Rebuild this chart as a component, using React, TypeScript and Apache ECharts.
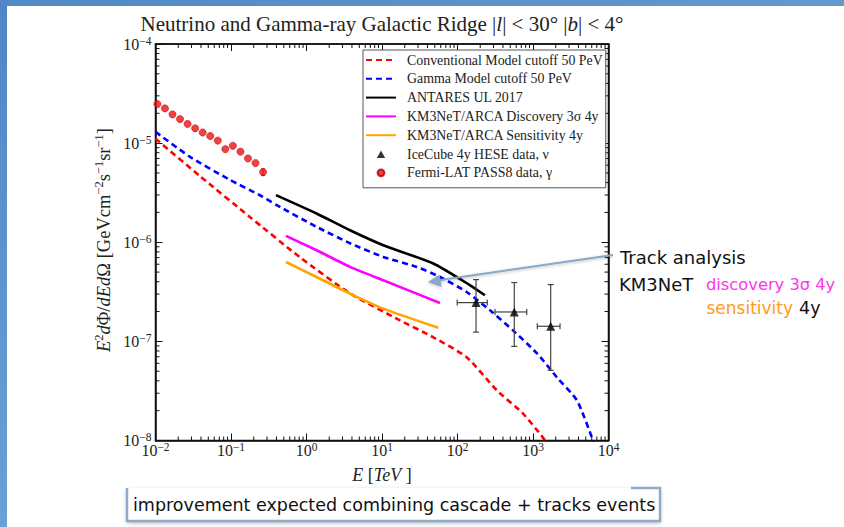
import { useEffect, useRef } from "react";
import * as echarts from "echarts";

// Energies in TeV, fluxes E^2 dPhi/dE dOmega in GeV cm^-2 s^-1 sr^-1
const conventionalE = [0.01, 0.0388, 0.179, 0.82, 3.77, 17.3, 47.8, 132, 333, 738, 1355, 1680];
const conventionalF = [1.11e-5, 4.65e-6, 1.79e-6, 7.05e-7, 3.05e-7, 1.63e-7, 1.1e-7, 6.93e-8, 3.2e-8, 1.87e-8, 1.07e-8, 8.5e-9];

const gammaE = [0.01, 0.0286, 0.097, 0.242, 0.403, 1.36, 3.77, 10.4, 28.8, 58.6, 132, 269, 543, 1130, 2080, 3830, 6240, 7260];
const gammaF = [1.3e-5, 7.28e-6, 4.25e-6, 2.98e-6, 2.37e-6, 1.43e-6, 9.78e-7, 7.11e-7, 5.64e-7, 4.46e-7, 3.15e-7, 2.06e-7, 1.29e-7, 7.57e-8, 4.33e-8, 2.53e-8, 1.0e-8, 7.1e-9];

const antaresE = [0.394, 1.36, 3.77, 10.4, 47.8, 147, 231];
const antaresF = [2.99e-6, 1.95e-6, 1.32e-6, 9.33e-7, 6.1e-7, 3.68e-7, 2.92e-7];

const discoveryE = [0.535, 1.36, 3.77, 10.4, 58.6];
const discoveryF = [1.16e-6, 8.3e-7, 5.64e-7, 4.13e-7, 2.44e-7];

const sensitivityE = [0.535, 1.36, 3.77, 10.4, 55.7];
const sensitivityF = [6.32e-7, 4.46e-7, 3.03e-7, 2.14e-7, 1.37e-7];

const iceCubeE = [176, 565, 1714];
const iceCubeF = [2.46e-7, 1.98e-7, 1.42e-7];
const iceCubeELo = [99, 314, 1140];
const iceCubeEHi = [248, 826, 2280];
const iceCubeFLo = [1.24e-7, 8.9e-8, 5.1e-8];
const iceCubeFHi = [4.2e-7, 3.92e-7, 3.74e-7];

const fermiE = [0.01059, 0.01334, 0.01679, 0.02113, 0.02661, 0.0335, 0.04217, 0.05309, 0.06683, 0.08414, 0.1059, 0.1334, 0.1679, 0.2113, 0.2661];
const fermiF = [2.48e-5, 2.24e-5, 1.95e-5, 1.75e-5, 1.56e-5, 1.41e-5, 1.28e-5, 1.18e-5, 1.06e-5, 8.7e-6, 9.4e-6, 8.2e-6, 7.0e-6, 6.3e-6, 5.1e-6];
// only the highest-energy Fermi point carries a visible error bar
const fermiErrE = [0.2661];
const fermiErrLo = [4.7e-6];
const fermiErrHi = [5.5e-6];

const X_MIN = 1e-2;
const X_MAX = 1e4;
const Y_MIN = 1e-8;
const Y_MAX = 1e-4;

const xDecades = [-2, -1, 0, 1, 2, 3];
const yDecades = [-8, -7, -6, -5];
const minorMultipliers = [2, 3, 4, 5, 6, 7, 8, 9];

const NAMES = [
  "Conventional Model cutoff 50 PeV",
  "Gamma Model cutoff 50 PeV",
  "ANTARES UL 2017",
  "KM3NeT/ARCA Discovery 3\u03c3 4y",
  "KM3NeT/ARCA Sensitivity 4y",
  "IceCube 4y HESE data, \u03bd",
  "Fermi-LAT PASS8 data, \u03b3",
];

const SERIF = "'Liberation Serif', 'DejaVu Serif', serif";
const SANS = "'DejaVu Sans', 'Noto Sans', sans-serif";

// legend marker paths padded to the 30x9 legend slot so they keep their shape
const TRIANGLE_ICON = "path://M0,0L0,0M30,9L30,9M10.8,8.5L15,1L19.2,8.5Z";
const CIRCLE_ICON = "path://M0,0L0,0M30,9L30,9M11.6,4.5A3.4,3.4,0,1,0,18.4,4.5A3.4,3.4,0,1,0,11.6,4.5Z";

const zip = (a: number[], b: number[]) => a.map((v, i) => [v, b[i]]);

const powLabel = (v: number) => {
  const e = Math.round(Math.log10(v));
  const s = e < 0 ? "\u2212" + Math.abs(e) : String(e);
  return `{b|10}{s|${s}}`;
};

const tickRich = {
  b: { fontSize: 16, lineHeight: 19, fontFamily: SERIF, color: "#222" },
  s: { fontSize: 11.5, lineHeight: 12, verticalAlign: "top", fontFamily: SERIF, color: "#222" },
};

export default function App() {
  const ref = useRef<HTMLDivElement>(null);

  useEffect(() => {
    if (!ref.current) return;
    const chart = echarts.init(ref.current, undefined, { renderer: "svg" });

    const xMinor: number[] = [];
    xDecades.forEach((d) => minorMultipliers.forEach((m) => xMinor.push(m * Math.pow(10, d))));
    const yMinor: number[] = [];
    yDecades.forEach((d) => minorMultipliers.forEach((m) => yMinor.push(m * Math.pow(10, d))));

    const tickStyle = { stroke: "#111", lineWidth: 1 };
    const MINOR = 4;

    const dashed = (name: string, color: string, e: number[], f: number[]) => ({
      name,
      type: "line",
      data: zip(e, f),
      showSymbol: false,
      symbol: "none",
      smooth: 0.2,
      clip: true,
      lineStyle: { color, width: 2.6, type: [6, 4] },
      itemStyle: { color },
      z: 4,
    });
    const solid = (name: string, color: string, e: number[], f: number[]) => ({
      name,
      type: "line",
      data: zip(e, f),
      showSymbol: false,
      symbol: "none",
      smooth: 0.2,
      lineStyle: { color, width: 2.6 },
      itemStyle: { color },
      z: 4,
    });

    const commonAxis = {
      type: "log",
      logBase: 10,
      splitNumber: 5,
      splitLine: { show: false },
      axisLine: { show: true, onZero: false, lineStyle: { color: "#111", width: 1.5 } },
      axisTick: { show: true, inside: true, length: 7, lineStyle: { color: "#111", width: 1 } },
    };

    // line entries show only the line handle, without a marker dot
    const lineEntry = (name: string) => ({ name, itemStyle: { opacity: 0 } });

    chart.setOption({
      animation: false,
      backgroundColor: "#ffffff",
      grid: {
        left: 155.5,
        top: 44,
        right: 235.5,
        bottom: 86.5,
        show: true,
        borderColor: "#111",
        borderWidth: 1.5,
        backgroundColor: "transparent",
      },
      xAxis: [
        {
          ...commonAxis,
          min: X_MIN,
          max: X_MAX,
          position: "bottom",
          axisLabel: {
            show: true,
            margin: 0,
            formatter: powLabel,
            rich: tickRich,
            showMinLabel: true,
            showMaxLabel: true,
          },
        },
        {
          ...commonAxis,
          min: X_MIN,
          max: X_MAX,
          position: "top",
          axisLabel: { show: false },
        },
      ],
      yAxis: [
        {
          ...commonAxis,
          min: Y_MIN,
          max: Y_MAX,
          position: "left",
          axisLabel: {
            show: true,
            margin: 4,
            formatter: powLabel,
            rich: tickRich,
            showMinLabel: true,
            showMaxLabel: true,
          },
        },
        {
          ...commonAxis,
          min: Y_MIN,
          max: Y_MAX,
          position: "right",
          axisLabel: { show: false },
        },
      ],
      legend: {
        data: [
          lineEntry(NAMES[0]),
          lineEntry(NAMES[1]),
          lineEntry(NAMES[2]),
          lineEntry(NAMES[3]),
          lineEntry(NAMES[4]),
          { name: NAMES[5], icon: TRIANGLE_ICON },
          { name: NAMES[6], icon: CIRCLE_ICON },
        ],
        orient: "vertical",
        left: 363,
        top: 50,
        padding: [3, 3, 8, 2],
        itemGap: 4.8,
        itemWidth: 30,
        itemHeight: 9,
        symbolKeepAspect: true,
        selectedMode: false,
        backgroundColor: "#ffffff",
        borderColor: "#555",
        borderWidth: 1,
        borderRadius: 0,
        textStyle: {
          fontFamily: SERIF,
          fontSize: 13.9,
          lineHeight: 14,
          color: "#222",
          padding: [0, 0, 0, 6],
        },
        z: 10,
      },
      series: [
        dashed(NAMES[0], "#ff0000", conventionalE, conventionalF),
        dashed(NAMES[1], "#0000ff", gammaE, gammaF),
        solid(NAMES[2], "#000000", antaresE, antaresF),
        solid(NAMES[3], "#ff00ff", discoveryE, discoveryF),
        solid(NAMES[4], "#ffa500", sensitivityE, sensitivityF),
        {
          name: NAMES[5],
          type: "scatter",
          symbol: "triangle",
          symbolSize: 9,
          data: zip(iceCubeE, iceCubeF),
          itemStyle: { color: "#000000" },
          z: 6,
        },
        {
          name: NAMES[6],
          type: "scatter",
          symbol: "circle",
          symbolSize: 7.2,
          data: zip(fermiE, fermiF),
          itemStyle: { color: "#ee1111", borderColor: "#b00000", borderWidth: 0.6 },
          z: 6,
        },
        {
          name: "iceCubeErrors",
          type: "custom",
          clip: false,
          z: 5,
          data: iceCubeE.map((e, i) => [e, iceCubeF[i], iceCubeELo[i], iceCubeEHi[i], iceCubeFLo[i], iceCubeFHi[i]]),
          encode: { x: 0, y: 1 },
          renderItem: (_p: any, api: any) => {
            const x = api.value(0);
            const y = api.value(1);
            const l = api.coord([api.value(2), y]);
            const h = api.coord([api.value(3), y]);
            const lo = api.coord([x, api.value(4)]);
            const hi = api.coord([x, api.value(5)]);
            const st = { stroke: "#444", lineWidth: 1.2 };
            const c = 3;
            return {
              type: "group",
              children: [
                { type: "line", shape: { x1: l[0], y1: l[1], x2: h[0], y2: h[1] }, style: st },
                { type: "line", shape: { x1: l[0], y1: l[1] - c, x2: l[0], y2: l[1] + c }, style: st },
                { type: "line", shape: { x1: h[0], y1: h[1] - c, x2: h[0], y2: h[1] + c }, style: st },
                { type: "line", shape: { x1: lo[0], y1: lo[1], x2: hi[0], y2: hi[1] }, style: st },
                { type: "line", shape: { x1: lo[0] - c, y1: lo[1], x2: lo[0] + c, y2: lo[1] }, style: st },
                { type: "line", shape: { x1: hi[0] - c, y1: hi[1], x2: hi[0] + c, y2: hi[1] }, style: st },
              ],
            };
          },
        },
        {
          name: "fermiErrors",
          type: "custom",
          clip: false,
          z: 5,
          data: fermiErrE.map((e, i) => [e, fermiErrLo[i], fermiErrHi[i]]),
          encode: { x: 0, y: 1 },
          renderItem: (_p: any, api: any) => {
            const x = api.value(0);
            const lo = api.coord([x, api.value(1)]);
            const hi = api.coord([x, api.value(2)]);
            const st = { stroke: "#ee1111", lineWidth: 1 };
            return {
              type: "group",
              children: [
                { type: "line", shape: { x1: lo[0], y1: lo[1], x2: hi[0], y2: hi[1] }, style: st },
                { type: "line", shape: { x1: lo[0] - 2, y1: lo[1], x2: lo[0] + 2, y2: lo[1] }, style: st },
                { type: "line", shape: { x1: hi[0] - 2, y1: hi[1], x2: hi[0] + 2, y2: hi[1] }, style: st },
              ],
            };
          },
        },
        {
          name: "xMinorTicks",
          type: "custom",
          clip: false,
          z: 3,
          data: xMinor.map((v) => [v, Y_MIN]),
          encode: { x: 0, y: 1 },
          renderItem: (_p: any, api: any) => {
            const v = api.value(0);
            const b = api.coord([v, Y_MIN]);
            const t = api.coord([v, Y_MAX]);
            return {
              type: "group",
              children: [
                { type: "line", shape: { x1: b[0], y1: b[1], x2: b[0], y2: b[1] - MINOR }, style: tickStyle },
                { type: "line", shape: { x1: t[0], y1: t[1], x2: t[0], y2: t[1] + MINOR }, style: tickStyle },
              ],
            };
          },
        },
        {
          name: "yMinorTicks",
          type: "custom",
          clip: false,
          z: 3,
          data: yMinor.map((v) => [X_MIN, v]),
          encode: { x: 0, y: 1 },
          renderItem: (_p: any, api: any) => {
            const v = api.value(1);
            const l = api.coord([X_MIN, v]);
            const r = api.coord([X_MAX, v]);
            return {
              type: "group",
              children: [
                { type: "line", shape: { x1: l[0], y1: l[1], x2: l[0] + MINOR, y2: l[1] }, style: tickStyle },
                { type: "line", shape: { x1: r[0], y1: r[1], x2: r[0] - MINOR, y2: r[1] }, style: tickStyle },
              ],
            };
          },
        },
      ],
      graphic: [
        // slide frame
        {
          type: "rect",
          silent: true,
          z: 100,
          shape: { x: 0, y: 0, width: 844, height: 6 },
          style: {
            fill: new echarts.graphic.LinearGradient(0, 0, 1, 0, [
              { offset: 0, color: "#5189c6" },
              { offset: 1, color: "#6399cf" },
            ]),
          },
        },
        {
          type: "rect",
          silent: true,
          z: 100,
          shape: { x: 0, y: 0, width: 7, height: 527 },
          style: {
            fill: new echarts.graphic.LinearGradient(0, 0, 0, 1, [
              { offset: 0, color: "#4f87c6" },
              { offset: 1, color: "#6aa0d6" },
            ]),
          },
        },
        // plot title
        {
          type: "text",
          silent: true,
          x: 382,
          y: 24,
          style: {
            text: "Neutrino and Gamma-ray Galactic Ridge |{i|l}| < 30\u00b0 |{i|b}| < 4\u00b0",
            fontFamily: SERIF,
            fontSize: 21,
            fill: "#222",
            align: "center",
            verticalAlign: "middle",
            rich: { i: { fontFamily: SERIF, fontSize: 21, fontStyle: "italic", fill: "#222" } },
          },
        },
        // y axis title
        {
          type: "text",
          silent: true,
          x: 104,
          y: 240,
          rotation: Math.PI / 2,
          style: {
            text:
              "{i|E}{s|2}{i|d}\u03a6{n|/}{i|dEd}\u03a9 [GeVcm{s|\u22122}s{s|\u22121}sr{s|\u22121}]",
            fontFamily: SERIF,
            fontSize: 18.5,
            fill: "#222",
            align: "center",
            verticalAlign: "middle",
            rich: {
              i: { fontFamily: SERIF, fontSize: 18.5, fontStyle: "italic", fill: "#222", lineHeight: 24 },
              n: { fontFamily: SERIF, fontSize: 18.5, fill: "#222", lineHeight: 24 },
              s: { fontFamily: SERIF, fontSize: 12.5, fill: "#222", verticalAlign: "top", lineHeight: 13 },
            },
          },
        },
        // x axis title
        {
          type: "text",
          silent: true,
          x: 382,
          y: 475,
          style: {
            text: "{i|E} [{i|TeV} ]",
            fontFamily: SERIF,
            fontSize: 18,
            fill: "#222",
            align: "center",
            verticalAlign: "middle",
            rich: { i: { fontFamily: SERIF, fontSize: 18, fontStyle: "italic", fill: "#222" } },
          },
        },
        // callout arrow
        {
          type: "line",
          silent: true,
          z: 50,
          shape: { x1: 613, y1: 255, x2: 437, y2: 280.5 },
          style: { stroke: "#87a8c8", lineWidth: 2, shadowColor: "rgba(0,0,0,0.25)", shadowBlur: 3, shadowOffsetY: 1 },
        },
        {
          type: "polygon",
          silent: true,
          z: 50,
          shape: { points: [[428, 282], [439.5, 274.5], [441.5, 287]] },
          style: { fill: "#87a8c8", shadowColor: "rgba(0,0,0,0.25)", shadowBlur: 3, shadowOffsetY: 1 },
        },
        {
          type: "text",
          silent: true,
          z: 50,
          x: 620,
          y: 257,
          style: { text: "Track analysis", fontFamily: SANS, fontSize: 18, fill: "#111", align: "left", verticalAlign: "middle" },
        },
        {
          type: "text",
          silent: true,
          z: 50,
          x: 619,
          y: 284,
          style: { text: "KM3NeT", fontFamily: SANS, fontSize: 18, fill: "#111", align: "left", verticalAlign: "middle" },
        },
        {
          type: "text",
          silent: true,
          z: 50,
          x: 706,
          y: 284,
          style: { text: "discovery 3\u03c3 4y", fontFamily: SANS, fontSize: 16.3, fill: "#ff33ee", align: "left", verticalAlign: "middle" },
        },
        {
          type: "text",
          silent: true,
          z: 50,
          x: 706.5,
          y: 308,
          style: { text: "sensitivity", fontFamily: SANS, fontSize: 17, fill: "#ff9a1a", align: "left", verticalAlign: "middle" },
        },
        {
          type: "text",
          silent: true,
          z: 50,
          x: 799,
          y: 308,
          style: { text: "4y", fontFamily: SANS, fontSize: 17.5, fill: "#111", align: "left", verticalAlign: "middle" },
        },
        // bottom remark box
        {
          type: "rect",
          silent: true,
          z: 40,
          shape: { x: 127, y: 488, width: 533, height: 33 },
          style: { fill: "#ffffff", shadowColor: "rgba(0,0,0,0.3)", shadowBlur: 4, shadowOffsetY: 2 },
        },
        {
          type: "polyline",
          silent: true,
          z: 41,
          shape: { points: [[631, 488], [660, 488], [660, 521], [127, 521], [127, 488]] },
          style: { stroke: "#8eacca", lineWidth: 2.5, fill: null },
        },
        {
          type: "text",
          silent: true,
          z: 42,
          x: 133,
          y: 504.5,
          style: {
            text: "improvement expected combining cascade + tracks events",
            fontFamily: SANS,
            fontSize: 17.5,
            fill: "#111",
            align: "left",
            verticalAlign: "middle",
          },
        },
      ],
    });

    return () => chart.dispose();
  }, []);

  return (
    <div
      ref={ref}
      style={{ position: "absolute", left: 0, top: 0, width: 844, height: 527, background: "#fff" }}
    />
  );
}
